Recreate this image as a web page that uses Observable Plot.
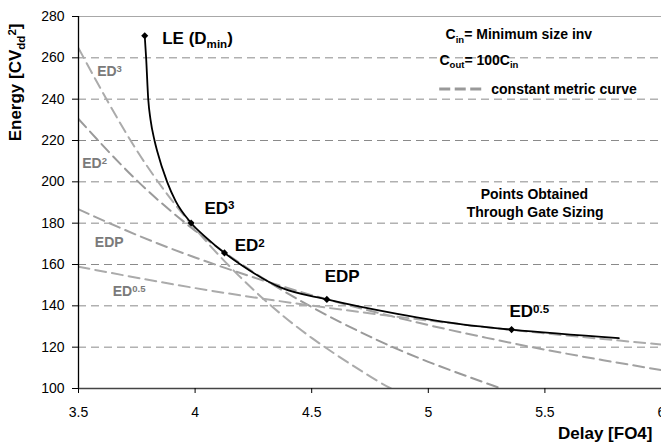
<!DOCTYPE html>
<html>
<head>
<meta charset="utf-8">
<script src="https://cdn.jsdelivr.net/npm/d3@7"></script>
<script src="https://cdn.jsdelivr.net/npm/@observablehq/plot@0.6"></script>
<style>
  html, body { margin: 0; padding: 0; background: #fff; }
  #chart svg { display: block; }
</style>
</head>
<body>
<div id="chart"></div>
<script>
// ---------- data ----------
const xTicks = [3.5, 4, 4.5, 5, 5.5, 6];
const yTicks = [100, 120, 140, 160, 180, 200, 220, 240, 260, 280];
const gridLevels = [120, 140, 160, 180, 200, 220, 240, 260];

// Points obtained through gate sizing (solid black curve)
const paretoDelay  = [3.784, 3.790, 3.799, 3.809, 3.826, 3.837, 3.880, 3.916, 3.983, 4.050, 4.126, 4.195, 4.366, 4.565, 4.867, 5.152, 5.357, 5.817];
const paretoEnergy = [270.7, 260.0, 240.0, 230.0, 220.0, 215.0, 200.0, 190.8, 180.1, 172.8, 165.6, 160.0, 148.9, 143.1, 136.1, 130.9, 128.5, 124.4];

// Marked optimum points
const pointNames  = ["LE (D_{min})", "ED^{3}", "ED^{2}", "EDP", "ED^{0.5}"];
const pointDelay  = [3.784, 3.983, 4.126, 4.565, 5.357];
const pointEnergy = [270.7, 180.1, 165.6, 143.1, 128.5];

// Constant metric curves (dashed grey)
const ed3Delay   = [3.5, 3.75, 4.0, 4.25, 4.5, 4.75, 4.84];
const ed3Energy  = [264.7, 215.2, 177.3, 147.8, 124.5, 105.9, 100.0];
const ed2Delay   = [3.5, 3.75, 4.0, 4.25, 4.5, 4.75, 5.0, 5.31];
const ed2Energy  = [230.4, 200.7, 176.4, 156.3, 139.4, 125.1, 112.9, 100.1];
const edpDelay   = [3.5, 3.75, 4.0, 4.25, 4.5, 4.75, 5.0, 5.25, 5.5, 5.75, 6.0];
const edpEnergy  = [186.7, 174.3, 163.4, 153.8, 145.2, 137.6, 130.7, 124.5, 118.8, 113.7, 108.9];
const ed05Delay  = [3.5, 4.0, 4.5, 5.0, 5.5, 6.0];
const ed05Energy = [158.9, 148.6, 140.1, 132.9, 126.7, 121.3];

// Annotation texts
const curveNames = ["ED^{3}", "ED^{2}", "EDP", "ED^{0.5}"];
const infoLines  = ["C_{in}= Minimum size inv", "C_{out}= 100C_{in}"];
const legendText = "constant metric curve";
const noteLines  = ["Points Obtained", "Through Gate Sizing"];
const xTitle = "Delay [FO4]";
const yTitle = "Energy [CV_{dd}^{2}]";

// ---------- annotation anchors (data units) ----------
const pointLabelDelay  = [3.859, 4.040, 4.170, 4.556, 5.348];
const pointLabelEnergy = [266.6, 184.4, 166.4, 151.3, 134.4];
const curveLabelDelay  = [3.580, 3.516, 3.570, 3.647];
const curveLabelEnergy = [251.3, 206.7, 168.6, 145.0];
const infoDelay  = [5.074, 5.048];
const infoEnergy = [268.9, 256.6];
const legendLine = {x1: 5.049, x2: 5.231, y: 244.9};
const legendLabel = {x: 5.270, y: 242.6};
const noteDelay  = [5.455, 5.458];
const noteEnergy = [191.7, 183.1];

// ---------- tables ----------
const zip = (xs, ys, extra = {}) => xs.map((x, i) => ({delay: x, energy: ys[i], ...extra}));
const pareto = zip(paretoDelay, paretoEnergy);
const points = pointNames.map((n, i) => ({name: n, delay: pointDelay[i], energy: pointEnergy[i], lx: pointLabelDelay[i], ly: pointLabelEnergy[i]}));
const curveLabels = curveNames.map((n, i) => ({name: n, x: curveLabelDelay[i], y: curveLabelEnergy[i]}));
const infos = infoLines.map((t, i) => ({t, x: infoDelay[i], y: infoEnergy[i]}));
const notes = noteLines.map((t, i) => ({t, x: noteDelay[i], y: noteEnergy[i]}));

const FONT = "'Liberation Sans', Arial, Helvetica, sans-serif";
const dashCurve = "11,6";

const chart = Plot.plot({
  width: 661,
  height: 444,
  marginLeft: 78,
  marginRight: 0,
  marginTop: 16,
  marginBottom: 56,
  style: {fontFamily: FONT, fontSize: "14px", color: "black", background: "white"},
  x: {domain: [3.5, 6]},
  y: {domain: [100, 280]},
  marks: [
    Plot.ruleY(gridLevels, {stroke: "#8a8a8a", strokeWidth: 1, strokeDasharray: "8,5"}),
    Plot.ruleY([280], {stroke: "#a8a8a8", strokeWidth: 1.2}),
    Plot.line(zip(ed3Delay, ed3Energy), {x: "delay", y: "energy", stroke: "#ababab", strokeWidth: 2, strokeDasharray: dashCurve, curve: "natural", clip: true}),
    Plot.line(zip(ed2Delay, ed2Energy), {x: "delay", y: "energy", stroke: "#9a9a9a", strokeWidth: 2, strokeDasharray: dashCurve, curve: "natural", clip: true}),
    Plot.line(zip(edpDelay, edpEnergy), {x: "delay", y: "energy", stroke: "#a2a2a2", strokeWidth: 2, strokeDasharray: dashCurve, curve: "natural", clip: true}),
    Plot.line(zip(ed05Delay, ed05Energy), {x: "delay", y: "energy", stroke: "#ababab", strokeWidth: 2, strokeDasharray: dashCurve, curve: "natural", clip: true}),
    Plot.line(pareto, {x: "delay", y: "energy", stroke: "black", strokeWidth: 1.8, curve: "monotone-x"}),
    Plot.dot(points, {x: "delay", y: "energy", symbol: "diamond2", r: 3.2, fill: "black", stroke: "none"}),
    Plot.ruleX([3.5], {stroke: "black", strokeWidth: 1.3}),
    Plot.ruleY([100], {stroke: "#444", strokeWidth: 1.6}),
    Plot.axisY({ticks: yTicks, tickSize: 6, tickPadding: 8, label: null, fontSize: 14, tickFormat: d => String(d)}),
    Plot.axisX({ticks: xTicks, tickSize: 5, tickPadding: 14, label: null, fontSize: 14, tickFormat: d => String(d)}),
    // point labels
    Plot.text(points, {x: "lx", y: "ly", text: "name", textAnchor: "start", lineAnchor: "bottom", fontSize: 17, fontWeight: "bold", fill: "black"}),
    // curve labels
    Plot.text(curveLabels, {x: "x", y: "y", text: "name", textAnchor: "start", lineAnchor: "bottom", fontSize: 14, fontWeight: "bold", fill: "#7a7a7a"}),
    // info box
    Plot.text(infos, {x: "x", y: "y", text: "t", textAnchor: "start", lineAnchor: "bottom", fontSize: 14, fontWeight: "bold", fill: "black"}),
    Plot.ruleY([legendLine.y], {x1: legendLine.x1, x2: legendLine.x2, stroke: "#999", strokeWidth: 3, strokeDasharray: "11,4.5"}),
    Plot.text([legendText], {x: legendLabel.x, y: legendLabel.y, text: d => d, textAnchor: "start", lineAnchor: "bottom", fontSize: 14, fontWeight: "bold", fill: "black"}),
    Plot.text(notes, {x: "x", y: "y", text: "t", textAnchor: "middle", lineAnchor: "bottom", fontSize: 14, fontWeight: "bold", fill: "black"}),
    // axis titles
    Plot.text([yTitle], {frameAnchor: "top-left", text: d => d, rotate: -90, textAnchor: "end", lineAnchor: "middle", dx: -63, dy: 7, fontSize: 17, fontWeight: "bold", fill: "black"}),
    Plot.text([xTitle], {frameAnchor: "bottom-right", text: d => d, textAnchor: "end", lineAnchor: "middle", dx: -9, dy: 45, fontSize: 17, fontWeight: "bold", fill: "black"})
  ]
});

document.getElementById("chart").append(chart);

// turn _{..} and ^{..} into sub/superscript tspans
function richText(root) {
  d3.select(root).selectAll("text").each(function () {
    const s = this.textContent;
    if (!/[_^]\{/.test(s)) return;
    const F = parseFloat(getComputedStyle(this).fontSize) || 14;
    const parts = [];
    const re = /([_^])\{([^}]*)\}/g;
    let last = 0, m;
    while ((m = re.exec(s))) {
      if (m.index > last) parts.push({t: s.slice(last, m.index), k: ""});
      parts.push({t: m[2], k: m[1]});
      last = re.lastIndex;
    }
    if (last < s.length) parts.push({t: s.slice(last), k: ""});
    this.textContent = "";
    let cur = 0;
    for (const p of parts) {
      const target = p.k === "^" ? -0.28 * F : p.k === "_" ? 0.22 * F : 0;
      const ts = d3.select(this).append("tspan").text(p.t);
      if (target !== cur) ts.attr("dy", (target - cur).toFixed(2));
      if (p.k) ts.attr("font-size", (0.68 * F).toFixed(2));
      cur = target;
    }
  });
}
richText(chart);
</script>
</body>
</html>
